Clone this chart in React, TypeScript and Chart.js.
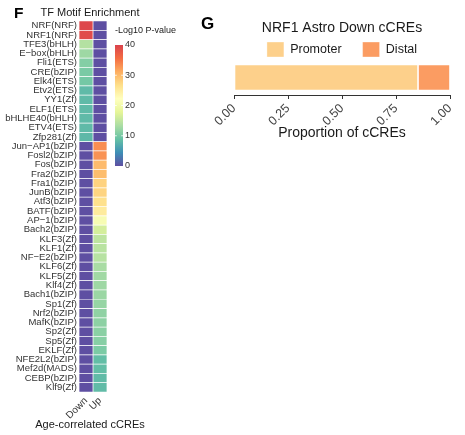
import React, { useEffect, useRef } from "react";
import { Chart, registerables } from "chart.js";
Chart.register(...registerables);

const FONT = "'Liberation Sans', Arial, Helvetica, sans-serif";
Chart.defaults.font.family = FONT;

// ---------- Panel F data ----------
const motifs = [
  "NRF(NRF)", "NRF1(NRF)", "TFE3(bHLH)", "E\u2212box(bHLH)", "Fli1(ETS)", "CRE(bZIP)", "Elk4(ETS)",
  "Etv2(ETS)", "YY1(Zf)", "ELF1(ETS)", "bHLHE40(bHLH)", "ETV4(ETS)", "Zfp281(Zf)",
  "Jun\u2212AP1(bZIP)", "Fosl2(bZIP)", "Fos(bZIP)", "Fra2(bZIP)", "Fra1(bZIP)", "JunB(bZIP)",
  "Atf3(bZIP)", "BATF(bZIP)", "AP\u22121(bZIP)", "Bach2(bZIP)", "KLF3(Zf)", "KLF1(Zf)",
  "NF\u2212E2(bZIP)", "KLF6(Zf)", "KLF5(Zf)", "Klf4(Zf)", "Bach1(bZIP)", "Sp1(Zf)", "Nrf2(bZIP)",
  "MafK(bZIP)", "Sp2(Zf)", "Sp5(Zf)", "EKLF(Zf)", "NFE2L2(bZIP)", "Mef2d(MADS)", "CEBP(bZIP)", "Klf9(Zf)",
];
const columns = ["Down", "Up"];
const downValues = [
  39.5, 39, 14, 12.5, 10.8, 10.2, 9.8, 8.2, 8.2, 8.2, 8.2, 8.2, 8,
  0, 0, 0, 0, 0, 0, 0, 0, 0, 0, 0, 0, 0, 0, 0, 0, 0, 0, 0, 0, 0, 0, 0, 0, 0, 0, 0,
];
const upValues = [
  0, 0, 0, 0, 0, 0, 0, 0, 0, 0, 0, 0, 0,
  33.3, 33, 30, 29.8, 27.9, 27.7, 26.5, 25.1, 20.8, 16.4, 14.7, 14.4, 14.2,
  13.2, 12.7, 12.5, 12.3, 12, 11.6, 11.4, 11.2, 11, 10.3, 8.5, 8.5, 8.3, 8.3,
];
const cellUnits = [1, 1]; // each column occupies one unit on the x scale
const colorbarTicks = [0, 10, 20, 30, 40];
const colorbarMax = 40;

// ---------- Panel G data ----------
const regionTypes = ["Promoter", "Distal"];
const regionProportions = [0.852, 0.148];
const proportionTicks = [0, 0.25, 0.5, 0.75, 1];

// ---------- styles ----------
const spectral = [
  "#5E4FA2", "#3E8FB6", "#66C2A5", "#ABDDA4", "#E6F598",
  "#FFFFBF", "#FEE08B", "#FDAE61", "#F46D43", "#DA434D",
];
const regionColors = ["#FDD08B", "#FB9C62"];
const TEXT = "#1a1a1a";
const AXTEXT = "#333333";

function hexToRgb(h: string) {
  const n = parseInt(h.slice(1), 16);
  return [(n >> 16) & 255, (n >> 8) & 255, n & 255];
}
function colorFor(v: number) {
  const t = Math.max(0, Math.min(1, v / colorbarMax)) * (spectral.length - 1);
  const i = Math.min(Math.floor(t), spectral.length - 2);
  const f = t - i;
  const a = hexToRgb(spectral[i]);
  const b = hexToRgb(spectral[i + 1]);
  const c = a.map((x, k) => Math.round(x + (b[k] - x) * f));
  return `rgb(${c[0]},${c[1]},${c[2]})`;
}

export default function App() {
  const heatRef = useRef<HTMLCanvasElement>(null);
  const barRef = useRef<HTMLCanvasElement>(null);
  const propRef = useRef<HTMLCanvasElement>(null);

  useEffect(() => {
    const charts: Chart[] = [];

    // Heatmap (Panel F)
    charts.push(
      new Chart(heatRef.current!, {
        type: "bar",
        data: {
          labels: motifs,
          datasets: [downValues, upValues].map((vals, ci) => ({
            label: columns[ci],
            data: motifs.map(() => cellUnits[ci]),
            backgroundColor: vals.map(colorFor),
            borderColor: "rgba(255,255,255,0.55)",
            borderWidth: 0.7,
            borderSkipped: false,
            categoryPercentage: 1,
            barPercentage: 1,
          })),
        },
        options: {
          indexAxis: "y",
          responsive: false,
          animation: false,
          layout: { padding: 0 },
          plugins: {
            legend: { display: false },
            tooltip: { enabled: false },
            title: {
              display: true,
              text: "TF Motif Enrichment",
              font: { size: 11, weight: "normal" },
              color: TEXT,
              padding: { top: 6, bottom: 1.8 },
            },
            subtitle: {
              display: true,
              position: "bottom",
              text: "Age-correlated cCREs",
              font: { size: 11, weight: "normal" },
              color: TEXT,
              padding: { top: 0, bottom: 3.4 },
            },
          },
          scales: {
            x: {
              type: "linear",
              stacked: true,
              min: 0,
              max: 2,
              afterBuildTicks: (s: any) => {
                s.ticks = columns.map((_, i) => ({ value: i + 0.5 }));
              },
              ticks: {
                callback: (v: any) => columns[Math.floor(Number(v))],
                minRotation: 45,
                maxRotation: 45,
                autoSkip: false,
                font: { size: 10 },
                color: AXTEXT,
                padding: 3,
              },
              grid: { display: false, drawTicks: false },
              border: { display: false },
              afterFit: (s: any) => {
                s.height = 26.4;
              },
            },
            y: {
              stacked: true,
              ticks: { font: { size: 9.5 }, color: AXTEXT, padding: 2, autoSkip: false },
              grid: { display: false, drawTicks: false },
              border: { display: false },
              afterFit: (s: any) => {
                s.width = 79;
              },
            },
            yr: {
              type: "linear",
              position: "right",
              display: true,
              ticks: { display: false },
              grid: { display: false, drawTicks: false },
              border: { display: false },
              afterFit: (s: any) => {
                s.width = 73;
              },
            },
          },
        } as any,
      })
    );

    // Colour bar legend
    const cbTickPlugin = {
      id: "cbTicks",
      afterDatasetsDraw(chart: any) {
        const { ctx, chartArea, scales } = chart;
        ctx.save();
        ctx.strokeStyle = "#ffffff";
        ctx.lineWidth = 0.8;
        colorbarTicks.forEach((t) => {
          if (t === 0 || t === colorbarMax) return;
          const y = scales.y.getPixelForValue(t);
          ctx.beginPath();
          ctx.moveTo(chartArea.left, y);
          ctx.lineTo(chartArea.left + 1.8, y);
          ctx.moveTo(chartArea.right - 1.8, y);
          ctx.lineTo(chartArea.right, y);
          ctx.stroke();
        });
        ctx.restore();
      },
    };
    charts.push(
      new Chart(barRef.current!, {
        type: "bar",
        data: {
          labels: [""],
          datasets: [
            {
              data: [colorbarMax],
              categoryPercentage: 1,
              barPercentage: 1,
              backgroundColor: (c: any) => {
                const chart = c.chart;
                const { ctx, chartArea, scales } = chart;
                if (!chartArea) return spectral[0];
                const y = scales.y;
                const g = ctx.createLinearGradient(0, y.getPixelForValue(0), 0, y.getPixelForValue(colorbarMax));
                spectral.forEach((col, i) => g.addColorStop(i / (spectral.length - 1), col));
                return g;
              },
            },
          ],
        },
        options: {
          responsive: false,
          animation: false,
          layout: { padding: { left: 3, right: 0, top: 0, bottom: 9 } },
          plugins: {
            legend: { display: false },
            tooltip: { enabled: false },
            title: {
              display: true,
              text: "-Log10 P-value",
              align: "start",
              font: { size: 9, weight: "normal" },
              color: TEXT,
              padding: { top: 5.6, bottom: 8.6 },
            },
          },
          scales: {
            x: { display: false },
            y: {
              position: "right",
              min: 0,
              max: colorbarMax,
              afterBuildTicks: (s: any) => {
                s.ticks = colorbarTicks.map((v) => ({ value: v }));
              },
              ticks: { font: { size: 9 }, color: AXTEXT, padding: 2 },
              grid: { display: false, drawTicks: false },
              border: { display: false },
              afterFit: (s: any) => {
                s.width = 57;
              },
            },
          },
        } as any,
        plugins: [cbTickPlugin],
      })
    );

    // Panel G
    charts.push(
      new Chart(propRef.current!, {
        type: "bar",
        data: {
          labels: [""],
          datasets: regionTypes.map((name, i) => ({
            label: name,
            data: [regionProportions[i]],
            backgroundColor: regionColors[i],
            borderColor: "rgba(255,255,255,0.45)",
            borderWidth: 0.8,
            borderSkipped: false,
            categoryPercentage: 1,
            barPercentage: 0.75,
          })),
        },
        options: {
          indexAxis: "y",
          responsive: false,
          animation: false,
          layout: { padding: { left: 34, right: 15, top: 0, bottom: 4.6 } },
          plugins: {
            tooltip: { enabled: false },
            title: {
              display: true,
              text: "NRF1 Astro Down cCREs",
              font: { size: 14, weight: "normal" },
              color: TEXT,
              padding: { top: 19.6, bottom: -15.4 },
            },
            legend: {
              display: true,
              maxHeight: 39,
              labels: {
                boxWidth: 17,
                boxHeight: 15,
                padding: 21,
                font: { size: 12.5 },
                color: TEXT,
              },
            },
          },
          scales: {
            x: {
              type: "linear",
              stacked: true,
              min: 0,
              max: 1,
              afterBuildTicks: (s: any) => {
                s.ticks = proportionTicks.map((v) => ({ value: v }));
              },
              ticks: {
                callback: (v: any) => Number(v).toFixed(2),
                minRotation: 45,
                maxRotation: 45,
                autoSkip: false,
                font: { size: 12.5 },
                color: "#444444",
                padding: 2,
              },
              grid: { display: true, drawOnChartArea: false, drawTicks: true, tickLength: 4, color: "#333333" },
              border: { display: true, color: "#333333", width: 1 },
              title: {
                display: true,
                text: "Proportion of cCREs",
                font: { size: 14 },
                color: TEXT,
                padding: { top: 2, bottom: 4 },
              },
              afterFit: (s: any) => {
                s.height = 50.4;
              },
            },
            y: { stacked: true, display: false },
          },
        } as any,
      })
    );

    return () => charts.forEach((c) => c.destroy());
  }, []);

  const abs = (l: number, t: number, w: number, h: number): React.CSSProperties => ({
    position: "absolute",
    left: l,
    top: t,
    width: w,
    height: h,
  });

  return (
    <div style={{ position: "absolute", left: 0, top: 0, width: 465, height: 435, background: "#fff", fontFamily: FONT }}>
      <canvas ref={heatRef} width={180} height={435} style={abs(0, 0, 180, 435)} />
      <canvas ref={barRef} width={68} height={155} style={abs(112, 20, 68, 155)} />
      <canvas ref={propRef} width={265} height={150} style={abs(200, 0, 265, 150)} />
      <div style={{ position: "absolute", left: 14, top: 5, fontSize: 15.5, lineHeight: "15.5px", fontWeight: "bold", color: "#000" }}>F</div>
      <div style={{ position: "absolute", left: 201, top: 15, fontSize: 17, lineHeight: "17px", fontWeight: "bold", color: "#000" }}>G</div>
    </div>
  );
}
